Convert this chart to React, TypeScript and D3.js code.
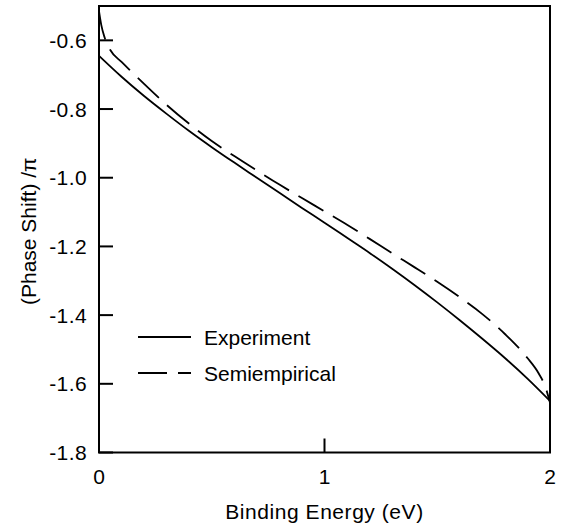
import React from "react";
import * as d3 from "d3";

const energyExp = [0, 0.1, 0.2, 0.3, 0.4, 0.5, 0.6, 0.7, 0.8, 0.9, 1.0, 1.1, 1.2, 1.3, 1.4, 1.5, 1.6, 1.7, 1.8, 1.9, 2.0];
const phaseExp = [-0.645, -0.706, -0.762, -0.814, -0.864, -0.911, -0.956, -1.0, -1.044, -1.088, -1.131, -1.175, -1.219, -1.265, -1.313, -1.363, -1.415, -1.469, -1.525, -1.585, -1.65];

const energySemi = [0, 0.01, 0.025, 0.05, 0.1, 0.15, 0.2, 0.3, 0.4, 0.5, 0.6, 0.7, 0.8, 0.9, 1.0, 1.1, 1.2, 1.3, 1.4, 1.5, 1.6, 1.7, 1.8, 1.9, 1.95, 1.98, 2.0];
const phaseSemi = [-0.515, -0.555, -0.592, -0.628, -0.663, -0.695, -0.727, -0.788, -0.843, -0.893, -0.937, -0.979, -1.02, -1.059, -1.098, -1.137, -1.178, -1.22, -1.261, -1.303, -1.348, -1.397, -1.455, -1.525, -1.57, -1.61, -1.655];

const xTicks = [0, 1, 2];
const yTicks = [-0.6, -0.8, -1.0, -1.2, -1.4, -1.6, -1.8];
const seriesNames = ["Experiment", "Semiempirical"];

const W = 564;
const H = 527;
const left = 99;
const right = 550;
const top = 6;
const bottom = 452.5;
const FONT = "'Liberation Sans', Arial, Helvetica, sans-serif";

export default function App() {
  const x = d3.scaleLinear().domain([0, 2]).range([left, right]);
  const y = d3.scaleLinear().domain([-1.8, -0.5]).range([bottom, top]);

  const line = d3
    .line<[number, number]>()
    .x((d) => x(d[0]))
    .y((d) => y(d[1]))
    .curve(d3.curveMonotoneX);

  const expPts: [number, number][] = energyExp.map((e, i) => [e, phaseExp[i]]);
  const semiPts: [number, number][] = energySemi.map((e, i) => [e, phaseSemi[i]]);

  return (
    <svg
      width={W}
      height={H}
      style={{ position: "absolute", left: 0, top: 0, background: "#fff" }}
      fontFamily={FONT}
    >
      <rect x={0} y={0} width={W} height={H} fill="#fff" />
      <defs>
        <clipPath id="plot">
          <rect x={left} y={top} width={right - left} height={bottom - top} />
        </clipPath>
      </defs>
      <g clipPath="url(#plot)">
        <path d={line(expPts) || ""} fill="none" stroke="#000" strokeWidth={1.8} />
        <path
          d={line(semiPts) || ""}
          fill="none"
          stroke="#000"
          strokeWidth={1.8}
          strokeDasharray="29,11"
        />
      </g>
      {/* frame */}
      <rect
        x={left}
        y={top}
        width={right - left}
        height={bottom - top}
        fill="none"
        stroke="#000"
        strokeWidth={2}
      />
      {/* y ticks */}
      {yTicks.map((t) => (
        <g key={"y" + t}>
          <line x1={left} x2={left + 14} y1={y(t)} y2={y(t)} stroke="#000" strokeWidth={2} />
          <text
            x={87}
            y={y(t)}
            dy="0.36em"
            textAnchor="end"
            fontSize={21}
            letterSpacing={0.4}
          >
            {t.toFixed(1)}
          </text>
        </g>
      ))}
      {/* x ticks */}
      {xTicks.map((t) => (
        <g key={"x" + t}>
          <line x1={x(t)} x2={x(t)} y1={bottom} y2={bottom - 14} stroke="#000" strokeWidth={2} />
          <text x={x(t)} y={484} textAnchor="middle" fontSize={21}>
            {t}
          </text>
        </g>
      ))}
      <text
        x={(left + right) / 2}
        y={519}
        textAnchor="middle"
        fontSize={21}
        letterSpacing={0.55}
      >
        Binding Energy (eV)
      </text>
      <text
        transform={`translate(35.5,${(top + bottom) / 2 + 2}) rotate(-90)`}
        textAnchor="middle"
        fontSize={21}
      >
        (Phase Shift) /π
      </text>
      {/* legend */}
      <line x1={138} x2={191} y1={337} y2={337} stroke="#000" strokeWidth={1.8} />
      <text x={204} y={344.5} fontSize={21}>
        {seriesNames[0]}
      </text>
      <line
        x1={138}
        x2={191}
        y1={373}
        y2={373}
        stroke="#000"
        strokeWidth={1.8}
        strokeDasharray="29,11"
      />
      <text x={204} y={380.5} fontSize={21}>
        {seriesNames[1]}
      </text>
    </svg>
  );
}
